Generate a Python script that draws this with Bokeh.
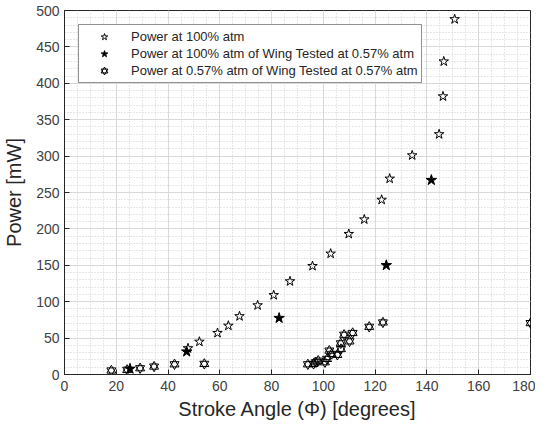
from bokeh.plotting import figure
from bokeh.models import Legend, LegendItem, FixedTicker, ColumnDataSource
from bokeh.embed import file_html
from bokeh.resources import INLINE

# Power at 100% atm
x_full = [47.7, 52.1, 59.1, 63.3, 67.6, 74.6, 80.8, 87.1, 95.8, 102.8, 109.8,
          115.8, 122.5, 125.6, 134.3, 144.7, 146.2, 146.5, 150.7]
y_full = [36, 45, 57, 67, 80, 95, 109, 128, 149, 166, 193,
          213, 240, 269, 301, 330, 382, 430, 488]

# Power at 100% atm of wing tested at 0.57% atm
x_wing = [25.3, 47.2, 82.9, 124.3, 141.7]
y_wing = [7.8, 31.4, 77.5, 150, 267]

# Power at 0.57% atm of wing tested at 0.57% atm
x_low = [18.1, 24.2, 29.2, 34.6, 42.5, 54.0, 94.0, 96.2, 97.1, 98.0, 100.6,
         101.4, 102.3, 103.2, 105.4, 106.8, 106.7, 108.0, 110.1, 111.3,
         117.7, 123.0, 180.0]
y_low = [5.5, 6.4, 8.6, 10.9, 14.0, 14.6, 14.0, 14.6, 16.8, 19.0, 16.8,
         21.4, 32.8, 28.3, 27.0, 35.0, 42.8, 54.6, 45.5, 57.0,
         65.5, 71.5, 70.6]

labels = ["Power at 100% atm",
          "Power at 100% atm of Wing Tested at 0.57% atm",
          "Power at 0.57% atm of Wing Tested at 0.57% atm"]

FONT = "Liberation Sans"
DARK = "#262626"

p = figure(width=535, height=422, x_range=(0, 180), y_range=(0, 500),
           output_backend="svg", toolbar_location=None,
           min_border_left=64, min_border_right=5, min_border_top=10,
           min_border_bottom=44)

p.background_fill_color = "white"
p.outline_line_color = DARK
p.outline_line_width = 1

for ax in (p.xaxis[0], p.yaxis[0]):
    ax.axis_line_color = DARK
    ax.major_tick_line_color = DARK
    ax.major_tick_in = 5
    ax.major_tick_out = 0
    ax.minor_tick_in = 0
    ax.minor_tick_out = 0
    ax.major_label_text_font = FONT
    ax.major_label_text_font_size = "14px"
    ax.major_label_text_color = "#404040"
    ax.axis_label_text_font = FONT
    ax.axis_label_text_font_size = "20px"
    ax.axis_label_text_font_style = "normal"
    ax.axis_label_text_color = "#262626"

p.xaxis.ticker = FixedTicker(ticks=list(range(0, 181, 20)),
                             minor_ticks=list(range(0, 181, 5)))
p.yaxis.ticker = FixedTicker(ticks=list(range(0, 501, 50)),
                             minor_ticks=list(range(0, 501, 10)))
p.xaxis.axis_label = "Stroke Angle (\u03a6) [degrees]"
p.yaxis.axis_label = "Power [mW]"
p.xaxis.axis_label_standoff = 4
p.xaxis.major_label_standoff = 6
p.yaxis.axis_label_standoff = 8

for g in (p.xgrid[0], p.ygrid[0]):
    g.grid_line_color = "#d9d9d9"
    g.grid_line_width = 1
    g.minor_grid_line_color = "#cfcfcf"
    g.minor_grid_line_dash = "1 2"
    g.minor_grid_line_width = 1

src_full = ColumnDataSource(dict(x=x_full, y=y_full))
src_wing = ColumnDataSource(dict(x=x_wing, y=y_wing))
src_low = ColumnDataSource(dict(x=x_low, y=y_low))

r1 = p.scatter("x", "y", source=src_full, marker="star", size=10,
               line_color="black", fill_color=None, line_width=1)
r2 = p.scatter("x", "y", source=src_wing, marker="star", size=11,
               line_color="black", fill_color="black", line_width=1)
r3a = p.scatter("x", "y", source=src_low, marker="triangle", size=9,
                line_color="black", fill_color=None, line_width=1)
r3b = p.scatter("x", "y", source=src_low, marker="inverted_triangle", size=9,
                line_color="black", fill_color=None, line_width=1)

legend = Legend(items=[
    LegendItem(label=labels[0], renderers=[r1]),
    LegendItem(label=labels[1], renderers=[r2]),
    LegendItem(label=labels[2], renderers=[r3a, r3b]),
], location="top_left")
legend.margin = 14
legend.padding = 3
legend.spacing = 0
legend.glyph_width = 44
legend.glyph_height = 17
legend.label_height = 17
legend.label_standoff = 5
legend.label_text_font = FONT
legend.label_text_font_size = "13px"
legend.label_text_color = "#262626"
legend.border_line_color = DARK
legend.border_line_width = 1
legend.background_fill_color = "white"
legend.background_fill_alpha = 1
p.add_layout(legend)

open("out.html", "w").write(file_html(p, INLINE))
